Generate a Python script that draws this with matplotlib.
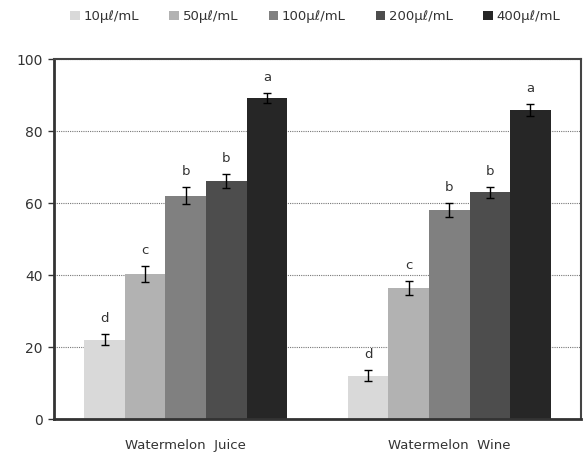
import numpy as np
import matplotlib
matplotlib.use("Agg")
import matplotlib.pyplot as plt

# Sample groups and treatment concentrations
groups = ["Watermelon  Juice", "Watermelon  Wine"]
doses = ["10μℓ/mL", "50μℓ/mL", "100μℓ/mL", "200μℓ/mL", "400μℓ/mL"]

# Mean activity per dose, one list per group
juice_mean = [22.1, 40.2, 62.1, 66.2, 89.1]
wine_mean = [12.1, 36.5, 58.1, 63.0, 85.9]
juice_err = [1.5, 2.2, 2.4, 2.0, 1.4]
wine_err = [1.4, 1.9, 1.9, 1.5, 1.7]
juice_sig = ["d", "c", "b", "b", "a"]
wine_sig = ["d", "c", "b", "b", "a"]

colors = ["#d9d9d9", "#b2b2b2", "#808080", "#4d4d4d", "#262626"]

plt.rcParams["font.family"] = ["DejaVu Sans"]
plt.rcParams["text.color"] = "#333333"
plt.rcParams["xtick.color"] = "#333333"
plt.rcParams["ytick.color"] = "#333333"

fig = plt.figure(figsize=(5.84, 4.58), dpi=100)
ax = fig.add_axes([0.0925, 0.085, 0.9025, 0.786])

means = np.array([juice_mean, wine_mean])
errs = np.array([juice_err, wine_err])
sigs = [juice_sig, wine_sig]
x = np.arange(len(groups))
width = 0.154

handles = []
for i, (dose, c) in enumerate(zip(doses, colors)):
    pos = x + (i - 2) * width
    b = ax.bar(pos, means[:, i], width=width, color=c, label=dose, zorder=2)
    ax.errorbar(pos, means[:, i], yerr=errs[:, i], fmt="none", ecolor="black",
                elinewidth=1.0, capsize=3, capthick=1.0, zorder=3)
    for g in range(len(groups)):
        ax.text(pos[g], means[g, i] + errs[g, i] + 2.5, sigs[g][i],
                ha="center", va="bottom", fontsize=9.5, color="#333333")
    handles.append(b)

ax.set_xlim(-0.5, 1.5)
ax.set_ylim(0, 100)
ax.set_yticks([0, 20, 40, 60, 80, 100])
ax.set_xticks(x)
ax.set_xticklabels(groups, fontsize=9.5)
ax.tick_params(axis="x", length=0, pad=14)
ax.tick_params(axis="y", direction="out", length=4, width=1, labelsize=10, pad=4)
ax.yaxis.grid(True, linestyle=(0, (1, 1)), color="#777777", linewidth=0.8, zorder=0)
ax.set_axisbelow(True)

for side in ["left", "bottom"]:
    ax.spines[side].set_linewidth(2.0)
    ax.spines[side].set_color("#333333")
for side in ["top", "right"]:
    ax.spines[side].set_linewidth(1.5)
    ax.spines[side].set_color("#444444")

fig.legend(handles=handles, labels=doses, loc="center", ncol=5,
           bbox_to_anchor=(0.54, 0.963), frameon=False, fontsize=9.5,
           handlelength=0.7, handleheight=0.7, handletextpad=0.3,
           columnspacing=2.3)

fig.savefig("out.png", dpi=100)
